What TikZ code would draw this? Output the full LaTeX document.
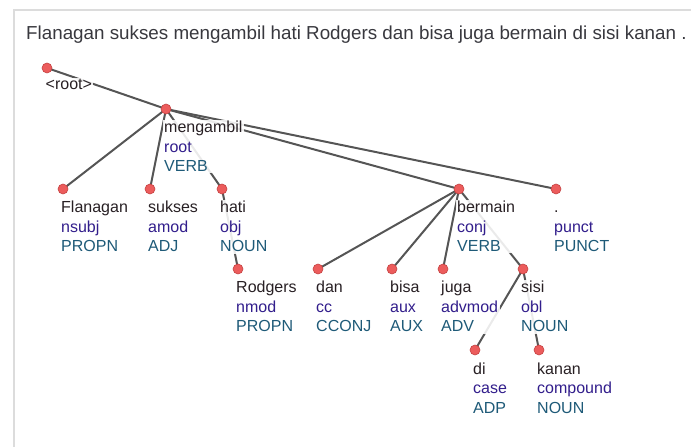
\documentclass[tikz,border=0pt]{standalone}
\usepackage{fontspec}
\setmainfont{Liberation Sans}
\usetikzlibrary{backgrounds,calc}

\definecolor{framec}{RGB}{220,220,220}
\definecolor{edgec}{RGB}{85,85,85}
\definecolor{dotfill}{RGB}{236,92,92}
\definecolor{dotline}{RGB}{196,66,66}
\definecolor{wordc}{RGB}{40,32,36}
\definecolor{relc}{RGB}{50,30,140}
\definecolor{posc}{RGB}{30,90,120}
\definecolor{sentc}{RGB}{56,56,62}

% word / relation / part of speech, stacked on fixed baselines
\newcommand\tokenlabel[3]{\vtop{\baselineskip=19.5bp
  \hbox{\color{wordc}#1}\hbox{\color{relc}#2}\hbox{\color{posc}#3}}}

\begin{document}
\begin{tikzpicture}[x=1bp,y=-1bp,
  dot/.style={circle,fill=dotfill,draw=dotline,line width=0.6bp,inner sep=0pt,minimum size=10bp},
  edge/.style={draw=edgec,line width=2bp},
  lbl/.style={anchor=base west,fill=white,fill opacity=.88,text opacity=1,
    inner sep=1.5bp,font=\fontsize{16bp}{19.5bp}\selectfont},
]
\useasboundingbox (0,0) rectangle (691,447);
\draw[framec,line width=2bp] (14,447) -- (14,10) -- (691,10);

\node[anchor=base west,inner sep=0pt,text=sentc,font=\fontsize{18.8bp}{22bp}\selectfont]
  (sent) at (26,40) {Flanagan sukses mengambil hati Rodgers dan bisa juga bermain di sisi kanan .};

% tree nodes
\node[dot] (root)    at (47,68)   {};
\node[dot] (meng)    at (166,109) {};
\node[dot] (flan)    at (63,189)  {};
\node[dot] (suks)    at (150,189) {};
\node[dot] (hati)    at (222,189) {};
\node[dot] (bermain) at (459,189) {};
\node[dot] (punct)   at (556,189) {};
\node[dot] (rodg)    at (238,269) {};
\node[dot] (dan)     at (318,269) {};
\node[dot] (bisa)    at (392,269) {};
\node[dot] (juga)    at (443,269) {};
\node[dot] (sisi)    at (523,269) {};
\node[dot] (di)      at (475,350) {};
\node[dot] (kanan)   at (539,350) {};

% labels under each node
\node[lbl] (lroot) at ($(root)+(-3,22)$) {\color{wordc}<root>};
\node[lbl] (lmeng) at ($(meng)+(-3.5,24)$) {\tokenlabel{mengambil}{root}{VERB}};
\node[lbl] (lflan) at ($(flan)+(-3.5,24)$) {\tokenlabel{Flanagan}{nsubj}{PROPN}};
\node[lbl] (lsuks) at ($(suks)+(-3.5,24)$) {\tokenlabel{sukses}{amod}{ADJ}};
\node[lbl] (lhati) at ($(hati)+(-3.5,24)$) {\tokenlabel{hati}{obj}{NOUN}};
\node[lbl] (lberm) at ($(bermain)+(-3.5,24)$) {\tokenlabel{bermain}{conj}{VERB}};
\node[lbl] (lpunc) at ($(punct)+(-3.5,24)$) {\tokenlabel{.}{punct}{PUNCT}};
\node[lbl] (lrodg) at ($(rodg)+(-3.5,24)$) {\tokenlabel{Rodgers}{nmod}{PROPN}};
\node[lbl] (ldan)  at ($(dan)+(-3.5,24)$) {\tokenlabel{dan}{cc}{CCONJ}};
\node[lbl] (lbisa) at ($(bisa)+(-3.5,24)$) {\tokenlabel{bisa}{aux}{AUX}};
\node[lbl] (ljuga) at ($(juga)+(-3.5,24)$) {\tokenlabel{juga}{advmod}{ADV}};
\node[lbl] (lsisi) at ($(sisi)+(-3.5,24)$) {\tokenlabel{sisi}{obl}{NOUN}};
\node[lbl] (ldi)   at ($(di)+(-3.5,24)$) {\tokenlabel{di}{case}{ADP}};
\node[lbl] (lkan)  at ($(kanan)+(-3.5,24)$) {\tokenlabel{kanan}{compound}{NOUN}};

% dependency edges, kept under labels and dots
\begin{pgfonlayer}{background}
  \draw[edge] (root.center) -- (meng.center);
  \draw[edge] (meng.center) -- (flan.center);
  \draw[edge] (meng.center) -- (suks.center);
  \draw[edge] (meng.center) -- (hati.center);
  \draw[edge] (meng.center) -- (bermain.center);
  \draw[edge] (meng.center) -- (punct.center);
  \draw[edge] (hati.center) -- (rodg.center);
  \draw[edge] (bermain.center) -- (dan.center);
  \draw[edge] (bermain.center) -- (bisa.center);
  \draw[edge] (bermain.center) -- (juga.center);
  \draw[edge] (bermain.center) -- (sisi.center);
  \draw[edge] (sisi.center) -- (di.center);
  \draw[edge] (sisi.center) -- (kanan.center);
\end{pgfonlayer}
\end{tikzpicture}
\end{document}
